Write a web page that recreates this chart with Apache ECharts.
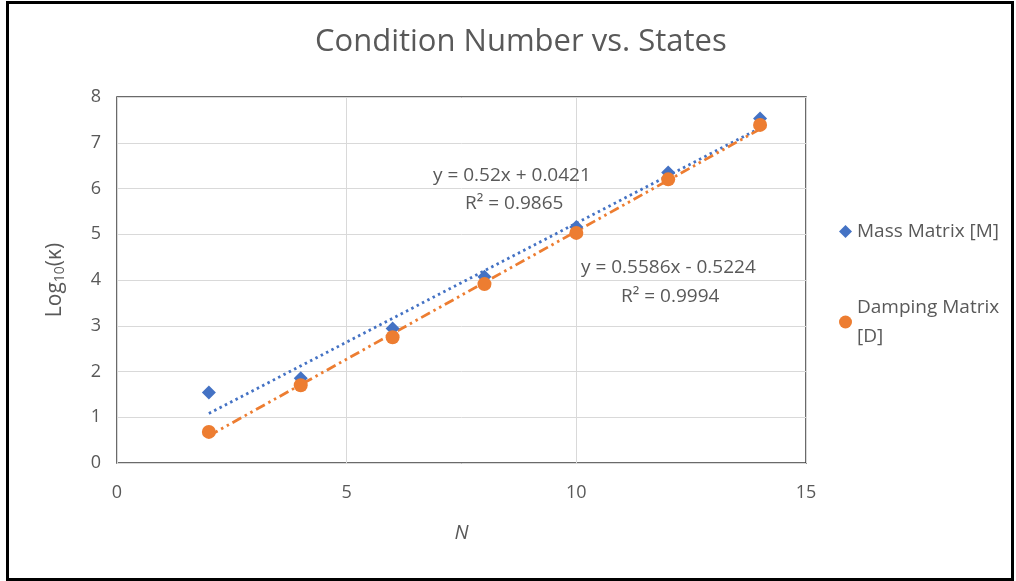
<!DOCTYPE html>
<html>
<head>
<meta charset="utf-8">
<script src="https://cdn.jsdelivr.net/npm/echarts@6/dist/echarts.min.js"></script>
<style>
html,body{margin:0;padding:0;background:#fff;}
#frame{position:absolute;left:6px;top:1px;width:1002px;height:574px;border:3px solid #000;}
#chart{position:absolute;left:0;top:0;width:1016px;height:581px;}
</style>
</head>
<body>
<div id="frame"></div>
<div id="chart"></div>
<script>
const statesN = [2, 4, 6, 8, 10, 12, 14];
const massLog = [1.54, 1.85, 2.94, 4.07, 5.16, 6.35, 7.53];
const dampLog = [0.68, 1.70, 2.75, 3.91, 5.03, 6.20, 7.39];
const massFit = [0.52, 0.0421];      // slope, intercept
const dampFit = [0.5586, -0.5224];
const massLabel = ['y = 0.52x + 0.0421', 'R² = 0.9865'];
const dampLabel = ['y = 0.5586x - 0.5224', 'R² = 0.9994'];
const xTicks = [0, 5, 10, 15];
const yTicks = [0, 1, 2, 3, 4, 5, 6, 7, 8];

const FONT = '"Open Sans", "Noto Sans", sans-serif';
const GREY = '#595959';
const BLUE = '#4472C4';
const ORANGE = '#ED7D31';

function pairs(xs, ys) { return xs.map((x, i) => [x, ys[i]]); }
function fitLine(coef) {
  const x0 = statesN[0], x1 = statesN[statesN.length - 1];
  return [[x0, coef[0] * x0 + coef[1]], [x1, coef[0] * x1 + coef[1]]];
}
function label(text, x, y) {
  return { type: 'text', x: x, y: y, z: 10,
    style: { text: text, font: '19px ' + FONT, fill: GREY, textAlign: 'left', textVerticalAlign: 'middle' } };
}

const chart = echarts.init(document.getElementById('chart'));
chart.setOption({
  backgroundColor: 'transparent',
  animation: false,
  title: {
    text: 'Condition Number vs. States',
    left: 310, top: 22,
    textStyle: { fontFamily: FONT, fontSize: 31, fontWeight: 'normal', color: GREY }
  },
  grid: {
    left: 117, right: 210, top: 97, bottom: 118,
    show: true, borderColor: '#3a3a3a', borderWidth: 1.5, backgroundColor: 'transparent'
  },
  legend: {
    orient: 'vertical', left: 834, top: 212, itemGap: 47,
    itemWidth: 13, itemHeight: 13, itemStyle: { opacity: 1 },
    data: [
      { name: 'Mass Matrix [M]', icon: 'diamond' },
      { name: 'Damping Matrix [D]', icon: 'circle' }
    ],
    formatter: n => n.replace(' [D]', '\n[D]'),
    textStyle: { fontFamily: FONT, fontSize: 19, color: GREY, lineHeight: 29 }
  },
  xAxis: {
    type: 'value', min: xTicks[0], max: xTicks[xTicks.length - 1], interval: 5,
    name: 'N', nameLocation: 'middle', nameGap: 60,
    nameTextStyle: { fontFamily: FONT, fontSize: 20, fontStyle: 'italic', color: GREY },
    axisLine: { show: false }, axisTick: { show: false },
    axisLabel: { fontFamily: FONT, fontSize: 18, color: GREY, margin: 21 },
    splitLine: { show: true, lineStyle: { color: '#d9d9d9', width: 1 } }
  },
  yAxis: {
    type: 'value', min: yTicks[0], max: yTicks[yTicks.length - 1], interval: 1,
    name: '{a|Log}{s|10}{a|(κ)}', nameLocation: 'middle', nameGap: 50,
    nameTextStyle: {
      rich: {
        a: { fontFamily: FONT, fontSize: 21, color: GREY },
        s: { fontFamily: FONT, fontSize: 14, color: GREY, padding: [10, 0, 0, 0] }
      }
    },
    axisLine: { show: false }, axisTick: { show: false },
    axisLabel: { fontFamily: FONT, fontSize: 18, color: GREY, margin: 16 },
    splitLine: { show: true, lineStyle: { color: '#d9d9d9', width: 1 } }
  },
  graphic: [
    label(massLabel[0], 433, 176),
    label(massLabel[1], 465, 204),
    label(dampLabel[0], 581, 268),
    label(dampLabel[1], 621, 297)
  ],
  series: [
    {
      name: 'Mass trend', type: 'line', data: fitLine(massFit), symbol: 'none', silent: true, z: 3,
      lineStyle: { color: BLUE, width: 2.8, type: [2.5, 3.5], cap: 'butt' }
    },
    {
      name: 'Damping trend', type: 'line', data: fitLine(dampFit), symbol: 'none', silent: true, z: 3,
      lineStyle: { color: ORANGE, width: 2.8, type: [10, 4, 2.5, 4, 2.5, 4], cap: 'butt' }
    },
    {
      name: 'Mass Matrix [M]', type: 'scatter', data: pairs(statesN, massLog),
      symbol: 'diamond', symbolSize: 14, itemStyle: { color: BLUE, opacity: 1 }, z: 4
    },
    {
      name: 'Damping Matrix [D]', type: 'scatter', data: pairs(statesN, dampLog),
      symbol: 'circle', symbolSize: 14, itemStyle: { color: ORANGE, opacity: 1 }, z: 5
    }
  ]
});
</script>
</body>
</html>
